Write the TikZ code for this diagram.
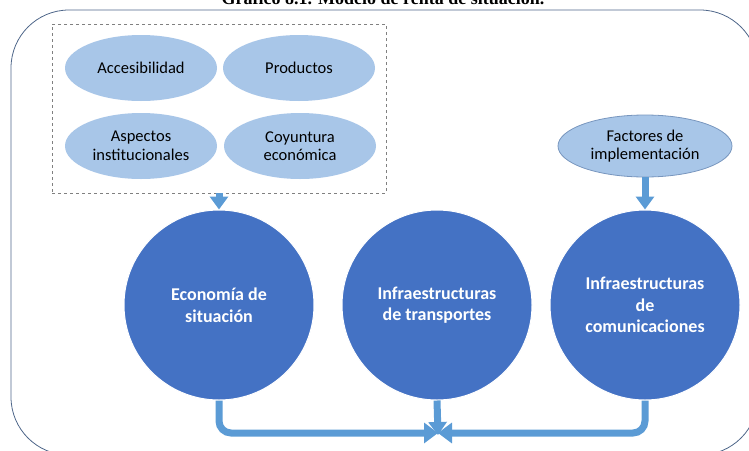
\documentclass[tikz,border=0pt]{standalone}
\usepackage{fontspec}
\setmainfont{Carlito}
\newfontfamily\titlefont{Liberation Serif}
\definecolor{rsframe}{RGB}{79, 103, 138}
\definecolor{rslight}{RGB}{168, 198, 232}
\definecolor{rsedge}{RGB}{120, 150, 190}
\definecolor{rsdark}{RGB}{68, 114, 196}
\definecolor{rsarrow}{RGB}{91, 155, 213}
\usetikzlibrary{arrows.meta, shapes.geometric}

\begin{document}
\begin{tikzpicture}[
      x=1pt, y=-1pt,
      factor/.style={ellipse, fill=rslight, inner sep=0pt,
                     minimum width=152pt, minimum height=66pt,
                     font=\fontsize{16.5}{18.5}\selectfont, align=center},
      sphere/.style={circle, fill=rsdark, draw=white, line width=1pt, inner sep=0pt,
                     minimum size=190pt, text=white,
                     font=\fontsize{18}{21.5}\selectfont\bfseries, align=center},
      blockarrow/.style={-{Triangle[width=18pt,length=13pt]}, line width=7pt, rsarrow},
      flow/.style={-{Triangle[width=20pt,length=14pt]}, line width=7pt, rsarrow, rounded corners=12pt}
    ]
      \useasboundingbox (0,0) rectangle (749,450);

      % Titulo (recortado) y marco
      \node[anchor=base, font=\titlefont\fontsize{18}{20}\selectfont\bfseries] (title) at (383,4)
        {Gráfico 8.1. Modelo de renta de situación.};
      \draw[rsframe, line width=0.8pt, rounded corners=58pt] (11,10) rectangle (758,455);

      % Factores de localizacion
      \node[draw=gray, dashed, fill=white, minimum width=334pt, minimum height=169pt] (group) at (219,108.5) {};
      \node[factor] (access) at (141,68) {Accesibilidad};
      \node[factor] (products) at (299,68) {Productos};
      \node[factor] (institut) at (141,146) {Aspectos\\institucionales};
      \node[factor] (coyunt) at (300,146) {Coyuntura\\económica};

      \node[factor, draw=rsedge, line width=0.8pt, minimum width=174pt, minimum height=62pt] (implem) at (645,146)
        {Factores de\\implementación};

      % Circulos
      \node[sphere] (economy) at (219,305) {Economía de\\situación};
      \node[sphere] (transport) at (437,305) {Infraestructuras\\de transportes};
      \node[sphere] (comms) at (645,305) {Infraestructuras\\de\\comunicaciones};

      % Flechas
      \coordinate (meet) at (438,433);
      \draw[blockarrow] (group.south -| economy) -- (economy.north);
      \draw[blockarrow] (implem.south) -- (comms.north);
      \draw[flow] (economy.south) |- (meet);
      \draw[flow] (comms.south) |- (meet);
      \draw[blockarrow] (transport.south) -- ([yshift=-2pt]meet);
    \end{tikzpicture}
\end{document}
